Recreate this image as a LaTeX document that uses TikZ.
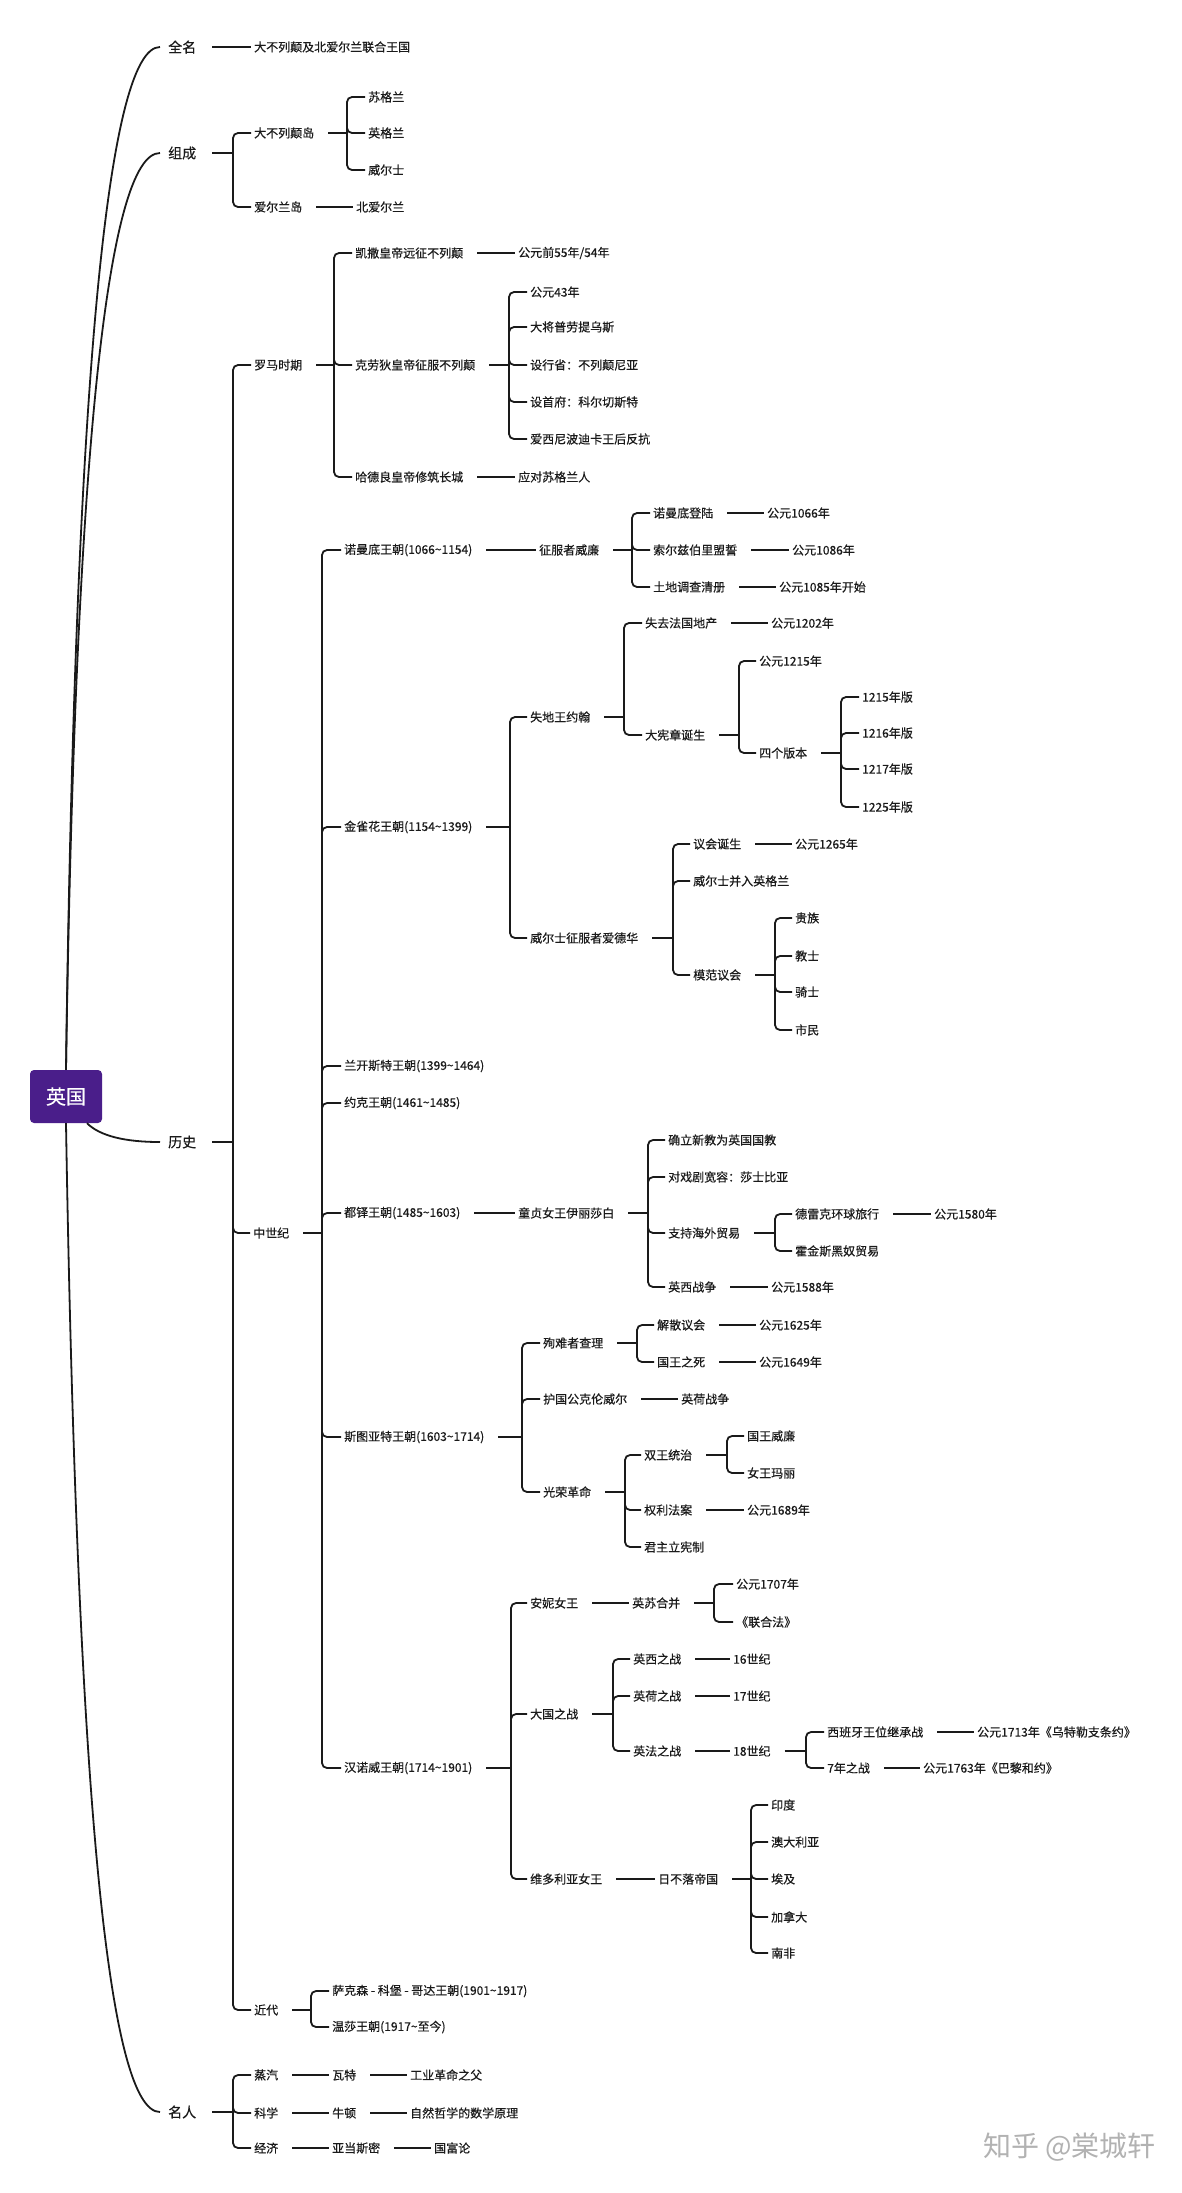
\documentclass[tikz,border=0pt]{standalone}
\usepackage{fontspec}
\setmainfont{Noto Sans CJK SC}[FakeBold=0.4]
\newfontfamily\wmfont{Noto Sans CJK SC}
\newcommand\tld{\char"7E\relax}
\definecolor{rootpurple}{HTML}{4A1E8A}
\definecolor{ink}{HTML}{1A1A1A}
\tikzset{
  t/.style={anchor=west, inner sep=0pt, font=\fontsize{12pt}{14pt}\selectfont, text=ink},
  tone/.style={t, font=\fontsize{14pt}{16pt}\selectfont},
  rootbox/.style={fill=rootpurple, rounded corners=4pt, minimum width=72pt, minimum height=53pt, inner sep=0pt, text=white, font=\fontsize{20pt}{22pt}\selectfont},
  stub/.style={line width=2.6pt, draw=ink},
  br/.style={line width=1.8pt, draw=ink, rounded corners=5pt},
  ln/.style={line width=2.2pt, draw=ink},
  rootc/.style={line width=1.8pt, draw=ink},
  wm/.style={anchor=west, inner sep=0pt, font=\wmfont\fontsize{28pt}{30pt}\selectfont, text=black!30},
}
\newcommand\one[2]{\draw[ln] ([xshift=14pt]#1.east) -- ([xshift=-3pt]#2.west);}
\newcommand\many[3]{\draw[stub] ([xshift=14pt]#1.east) -- (#2);
  \foreach \x in {#3} {\draw[br] (#2) |- ([xshift=-3pt]\x.west);}}
\begin{document}
\begin{tikzpicture}[x=1pt,y=-1pt]
\fill[white] (0,0) rectangle (1181,2193);
\useasboundingbox (0,0) rectangle (1181,2193);

% root
\node[rootbox] (uk) at (66,1096.5) {英国};

% level 1
\node[tone] (qm) at (168,47) {全名};
\node[tone] (zc) at (168,153) {组成};
\node[tone] (ls) at (168,1142) {历史};
\node[tone] (mr) at (168,2112) {名人};

\draw[rootc] (uk.north) .. controls (75,388) and (107,47) .. ([xshift=-8pt]qm.west);
\draw[rootc] (uk.north) .. controls (75,459) and (107,153) .. ([xshift=-8pt]zc.west);
\draw[rootc] ([xshift=21pt]uk.south) .. controls (100,1136) and (125,1142) .. ([xshift=-8pt]ls.west);
\draw[rootc] (uk.south) .. controls (77,1782) and (107,2112) .. ([xshift=-8pt]mr.west);

% 全名
\node[t] (fn) at (254,47) {大不列颠及北爱尔兰联合王国};
\draw[ln] ([xshift=16pt]qm.east) -- ([xshift=-3pt]fn.west);

% 组成
\node[t] (dd) at (254,133) {大不列颠岛};
\node[t] (sg) at (368,97) {苏格兰};
\node[t] (yg) at (368,133) {英格兰};
\node[t] (we) at (368,170) {威尔士};
\node[t] (ae) at (254,207) {爱尔兰岛};
\node[t] (ba) at (356,207) {北爱尔兰};
\coordinate (jzc) at (233,153);
\coordinate (jdd) at (347,133);
\draw[stub] ([xshift=16pt]zc.east) -- (jzc);
\foreach \x in {dd,ae} {\draw[br] (jzc) |- ([xshift=-3pt]\x.west);}
\many{dd}{jdd}{sg,yg,we}
\one{ae}{ba}

% 历史
\coordinate (jls) at (233,1142);
\node[t] (lm) at (254,365) {罗马时期};
\node[t] (zs) at (253,1233) {中世纪};
\node[t] (jd) at (254,2010) {近代};
\draw[stub] ([xshift=16pt]ls.east) -- (jls);
\foreach \x in {lm,zs,jd} {\draw[br] (jls) |- ([xshift=-3pt]\x.west);}

% 罗马时期
\coordinate (jlm) at (334,365);
\node[t] (ks) at (355,253) {凯撒皇帝远征不列颠};
\node[t] (ks1) at (518,253) {公元前55年/54年};
\node[t] (kl) at (355,365) {克劳狄皇帝征服不列颠};
\node[t] (hd) at (355,477) {哈德良皇帝修筑长城};
\node[t] (hd1) at (518,477) {应对苏格兰人};
\many{lm}{jlm}{ks,kl,hd}
\one{ks}{ks1}
\one{hd}{hd1}
\coordinate (jkl) at (509,365);
\node[t] (kl1) at (530,292) {公元43年};
\node[t] (kl2) at (530,327) {大将普劳提乌斯};
\node[t] (kl3) at (530,365) {设行省：不列颠尼亚};
\node[t] (kl4) at (530,402) {设首府：科尔切斯特};
\node[t] (kl5) at (530,439) {爱西尼波迪卡王后反抗};
\many{kl}{jkl}{kl1,kl2,kl3,kl4,kl5}

% 中世纪
\coordinate (jzs) at (322,1233);
\node[t] (nm) at (344,550) {诺曼底王朝(1066\tld{}1154)};
\node[t] (jq) at (344,827) {金雀花王朝(1154\tld{}1399)};
\node[t] (lk) at (344,1066) {兰开斯特王朝(1399\tld{}1464)};
\node[t] (yk) at (344,1103) {约克王朝(1461\tld{}1485)};
\node[t] (dt) at (344,1213) {都铎王朝(1485\tld{}1603)};
\node[t] (st) at (344,1437) {斯图亚特王朝(1603\tld{}1714)};
\node[t] (hn) at (344,1768) {汉诺威王朝(1714\tld{}1901)};
\many{zs}{jzs}{nm,jq,lk,yk,dt,st,hn}

% 诺曼底
\node[t] (wl) at (539,550) {征服者威廉};
\one{nm}{wl}
\coordinate (jwl) at (632,550);
\node[t] (nm1) at (653,513) {诺曼底登陆};
\node[t] (nm1a) at (767,513) {公元1066年};
\node[t] (nm2) at (653,550) {索尔兹伯里盟誓};
\node[t] (nm2a) at (792,550) {公元1086年};
\node[t] (nm3) at (653,587) {土地调查清册};
\node[t] (nm3a) at (779,587) {公元1085年开始};
\many{wl}{jwl}{nm1,nm2,nm3}
\one{nm1}{nm1a}
\one{nm2}{nm2a}
\one{nm3}{nm3a}

% 金雀花
\coordinate (jjq) at (510,827);
\node[t] (yh) at (530,717) {失地王约翰};
\node[t] (ed) at (530,938) {威尔士征服者爱德华};
\many{jq}{jjq}{yh,ed}
\coordinate (jyh) at (624,717);
\node[t] (yh1) at (645,623) {失去法国地产};
\node[t] (yh1a) at (771,623) {公元1202年};
\node[t] (yh2) at (645,735) {大宪章诞生};
\many{yh}{jyh}{yh1,yh2}
\one{yh1}{yh1a}
\coordinate (jyh2) at (739,735);
\node[t] (yh2a) at (759,661) {公元1215年};
\node[t] (yh2b) at (759,753) {四个版本};
\many{yh2}{jyh2}{yh2a,yh2b}
\coordinate (jv) at (841,753);
\node[t] (v1) at (862,697) {1215年版};
\node[t] (v2) at (862,733) {1216年版};
\node[t] (v3) at (862,769) {1217年版};
\node[t] (v4) at (862,807) {1225年版};
\many{yh2b}{jv}{v1,v2,v3,v4}
\coordinate (jed) at (673,938);
\node[t] (ed1) at (693,844) {议会诞生};
\node[t] (ed1a) at (795,844) {公元1265年};
\node[t] (ed2) at (693,881) {威尔士并入英格兰};
\node[t] (ed3) at (693,975) {模范议会};
\many{ed}{jed}{ed1,ed2,ed3}
\one{ed1}{ed1a}
\coordinate (jp) at (775,975);
\node[t] (p1) at (795,918) {贵族};
\node[t] (p2) at (795,956) {教士};
\node[t] (p3) at (795,992) {骑士};
\node[t] (p4) at (795,1030) {市民};
\many{ed3}{jp}{p1,p2,p3,p4}

% 都铎
\node[t] (eb) at (518,1213) {童贞女王伊丽莎白};
\one{dt}{eb}
\coordinate (jeb) at (648,1213);
\node[t] (eb1) at (668,1140) {确立新教为英国国教};
\node[t] (eb2) at (668,1177) {对戏剧宽容：莎士比亚};
\node[t] (eb3) at (668,1233) {支持海外贸易};
\node[t] (eb4) at (668,1287) {英西战争};
\node[t] (eb4a) at (771,1287) {公元1588年};
\many{eb}{jeb}{eb1,eb2,eb3,eb4}
\one{eb4}{eb4a}
\coordinate (jeb3) at (775,1233);
\node[t] (eb3a) at (795,1214) {德雷克环球旅行};
\node[t] (eb3x) at (934,1214) {公元1580年};
\node[t] (eb3b) at (795,1251) {霍金斯黑奴贸易};
\many{eb3}{jeb3}{eb3a,eb3b}
\one{eb3a}{eb3x}

% 斯图亚特
\coordinate (jst) at (522,1437);
\node[t] (cl) at (543,1343) {殉难者查理};
\node[t] (cw) at (543,1399) {护国公克伦威尔};
\node[t] (cw1) at (681,1399) {英荷战争};
\node[t] (gr) at (543,1492) {光荣革命};
\many{st}{jst}{cl,cw,gr}
\one{cw}{cw1}
\coordinate (jcl) at (637,1343);
\node[t] (cl1) at (657,1325) {解散议会};
\node[t] (cl1a) at (759,1325) {公元1625年};
\node[t] (cl2) at (657,1362) {国王之死};
\node[t] (cl2a) at (759,1362) {公元1649年};
\many{cl}{jcl}{cl1,cl2}
\one{cl1}{cl1a}
\one{cl2}{cl2a}
\coordinate (jgr) at (625,1492);
\node[t] (gr1) at (644,1455) {双王统治};
\node[t] (gr2) at (644,1510) {权利法案};
\node[t] (gr2a) at (747,1510) {公元1689年};
\node[t] (gr3) at (644,1547) {君主立宪制};
\many{gr}{jgr}{gr1,gr2,gr3}
\one{gr2}{gr2a}
\coordinate (jgr1) at (727,1455);
\node[t] (gr1a) at (747,1436) {国王威廉};
\node[t] (gr1b) at (747,1473) {女王玛丽};
\many{gr1}{jgr1}{gr1a,gr1b}

% 汉诺威
\coordinate (jhn) at (511,1768);
\node[t] (an) at (530,1603) {安妮女王};
\node[t] (dg) at (530,1714) {大国之战};
\node[t] (vc) at (530,1879) {维多利亚女王};
\many{hn}{jhn}{an,dg,vc}
\node[t] (an1) at (632,1603) {英苏合并};
\one{an}{an1}
\coordinate (jan1) at (714,1603);
\node[t] (an1a) at (736,1584) {公元1707年};
\node[t] (an1b) at (736,1622) {《联合法》};
\many{an1}{jan1}{an1a,an1b}
\coordinate (jdg) at (613,1714);
\node[t] (dg1) at (633,1659) {英西之战};
\node[t] (dg1a) at (733,1659) {16世纪};
\node[t] (dg2) at (633,1696) {英荷之战};
\node[t] (dg2a) at (733,1696) {17世纪};
\node[t] (dg3) at (633,1751) {英法之战};
\node[t] (dg3a) at (733,1751) {18世纪};
\many{dg}{jdg}{dg1,dg2,dg3}
\one{dg1}{dg1a}
\one{dg2}{dg2a}
\one{dg3}{dg3a}
\coordinate (jdg3) at (806,1751);
\node[t] (w1) at (827,1732) {西班牙王位继承战};
\node[t] (w1a) at (977,1732) {公元1713年《乌特勒支条约》};
\node[t] (w2) at (827,1768) {7年之战};
\node[t] (w2a) at (923,1768) {公元1763年《巴黎和约》};
\many{dg3a}{jdg3}{w1,w2}
\one{w1}{w1a}
\one{w2}{w2a}
\node[t] (rb) at (658,1879) {日不落帝国};
\one{vc}{rb}
\coordinate (jrb) at (751,1879);
\node[t] (c1) at (771,1805) {印度};
\node[t] (c2) at (771,1842) {澳大利亚};
\node[t] (c3) at (771,1879) {埃及};
\node[t] (c4) at (771,1917) {加拿大};
\node[t] (c5) at (771,1953) {南非};
\many{rb}{jrb}{c1,c2,c3,c4,c5}

% 近代
\coordinate (jjd) at (311,2010);
\node[t] (jd1) at (332,1991) {萨克森 - 科堡 - 哥达王朝(1901\tld{}1917)};
\node[t] (jd2) at (332,2027) {温莎王朝(1917\tld{}至今)};
\many{jd}{jjd}{jd1,jd2}

% 名人
\coordinate (jmr) at (233,2112);
\node[t] (zq) at (254,2075) {蒸汽};
\node[t] (kx) at (254,2113) {科学};
\node[t] (jj) at (254,2148) {经济};
\draw[stub] ([xshift=16pt]mr.east) -- (jmr);
\foreach \x in {zq,kx,jj} {\draw[br] (jmr) |- ([xshift=-3pt]\x.west);}
\node[t] (zq1) at (332,2075) {瓦特};
\node[t] (zq2) at (410,2075) {工业革命之父};
\node[t] (kx1) at (332,2113) {牛顿};
\node[t] (kx2) at (410,2113) {自然哲学的数学原理};
\node[t] (jj1) at (332,2148) {亚当斯密};
\node[t] (jj2) at (434,2148) {国富论};
\one{zq}{zq1}
\one{zq1}{zq2}
\one{kx}{kx1}
\one{kx1}{kx2}
\one{jj}{jj1}
\one{jj1}{jj2}

% watermark
\node[wm] (wmk) at (983,2147) {知乎 @棠城轩};
\end{tikzpicture}
\end{document}
